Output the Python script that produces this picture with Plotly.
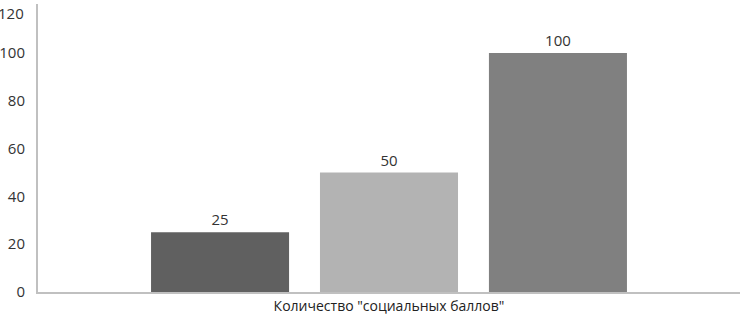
import plotly.graph_objects as go

category = ['Количество "социальных баллов"']
series_values = [25, 50, 100]
series_colors = ["#606060", "#b3b3b3", "#808080"]
y_ticks = [0, 20, 40, 60, 80, 100, 120]

fig = go.Figure()
for v, c in zip(series_values, series_colors):
    fig.add_trace(go.Bar(
        x=category, y=[v], marker=dict(color=c, line=dict(width=0)),
        text=[str(v)], textposition="outside", cliponaxis=False,
        textfont=dict(size=15, color="#333333"),
    ))

fig.update_layout(
    width=741, height=321,
    margin=dict(l=38, r=1, t=4, b=29, autoexpand=False),
    paper_bgcolor="white", plot_bgcolor="white",
    showlegend=False,
    barmode="group", bargap=0.278, bargroupgap=0.183,
    font=dict(family="Open Sans, sans-serif", size=14, color="#333333"),
)
# top tick label is hidden by plotly when it touches the figure edge; draw it as an annotation
fig.add_annotation(
    xref="paper", yref="y", x=0, y=y_ticks[-1], text=str(y_ticks[-1]),
    xanchor="right", yanchor="top", xshift=-12, yshift=4, showarrow=False,
    font=dict(size=15, color="#333333"),
)
fig.update_yaxes(
    range=[0, 120.5], tickvals=y_ticks[:-1],
    showgrid=False, zeroline=False, ticklabelstandoff=8,
    showline=True, linecolor="#c0c0c0", linewidth=2, ticks="", ticklen=0,
    tickfont=dict(size=15, color="#333333"), automargin=False,
)
fig.update_xaxes(
    showline=True, linecolor="#c0c0c0", linewidth=2, ticks="",
    tickfont=dict(size=14, color="#222222"), automargin=False,
)
fig.write_html("out.html", config={"displayModeBar": False},
               post_script="document.body.style.margin='0';")
